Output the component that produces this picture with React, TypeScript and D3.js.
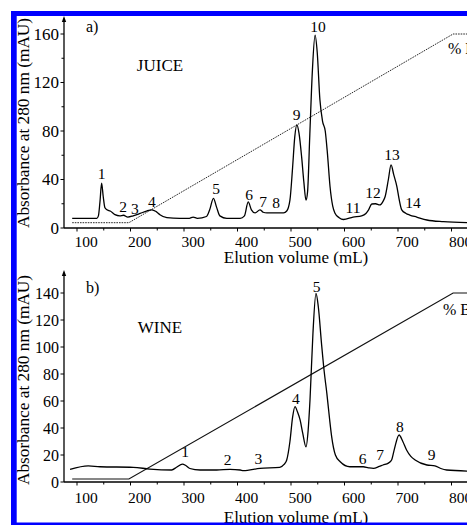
import React from "react";
import * as d3 from "d3";

// ---------- DATA ----------
const juiceVolume = [91, 137, 140, 143, 146, 149, 152, 156, 162, 171, 180, 187, 195, 205, 218, 230, 240, 248, 255, 268, 292, 310, 317, 325, 342, 348, 355, 361, 367, 380, 405, 413, 420, 426, 433, 442, 448, 455, 480, 486, 492, 498, 503, 507, 511, 515, 520, 524, 528, 531, 535, 540, 545, 549, 554, 559, 564, 568, 573, 578, 582, 590, 598, 616, 632, 640, 645, 651, 658, 666, 672, 676, 682, 687, 692, 698, 702, 707, 715, 722, 735, 754, 785, 830];
const juiceAbs = [8, 8, 10, 22, 37, 26, 17, 15, 14, 11, 10, 10.5, 9, 10, 12, 14, 15, 13.5, 11, 8.5, 8, 8, 9, 8, 9.5, 15, 24.5, 17, 10, 8, 8, 10, 21.5, 15, 12.4, 15, 13, 12.4, 12.4, 12.5, 14, 23, 50, 75, 85, 78, 58, 38, 23, 30, 75, 130, 159, 145, 106, 88, 80, 62, 34, 18, 12.4, 8.5, 7, 9, 10, 12, 15, 19.8, 20, 19, 22, 26, 40, 52, 44, 34, 24, 15, 12, 10.7, 9, 6.6, 5.2, 4.4];

const wineVolume = [87, 121, 143, 205, 236, 277, 286, 297, 304, 311, 330, 361, 386, 405, 411, 442, 479, 487, 492, 498, 503, 507.5, 512, 517, 522, 528, 532, 535.5, 541, 546.7, 551, 557, 562, 567, 572, 576, 583, 592, 610, 635, 645, 654, 665, 672, 682, 688, 693, 702, 709, 716, 724, 732, 754, 769, 780, 791, 830];
const wineAbs = [9.4, 12, 11.3, 10.9, 9.6, 8.9, 10.9, 13.3, 12, 10, 8.9, 8.9, 9.4, 8.9, 8.4, 10.1, 10.9, 13, 16.3, 30, 48, 55.8, 52, 46, 36, 26, 38, 60.7, 110, 139.7, 130, 102.7, 82, 65.7, 47, 33.6, 20, 15, 11.3, 11.3, 10.5, 10.1, 11.5, 12.6, 14, 16.3, 24, 34.8, 30, 23.7, 19, 16.3, 12.6, 12, 10, 8.9, 8.1];

const gradientVolume = [91, 197, 803, 840];
const gradientPercent = [0, 0, 100, 100];

const juicePeakLabels = ["1", "2", "3", "4", "5", "6", "7", "8", "9", "10", "11", "12", "13", "14"];
const juicePeakVolume = [146, 186, 208.4, 240, 360, 421.5, 447.7, 472, 510.7, 550.5, 615.9, 653.3, 688.8, 728];
const juicePeakAbs = [44.5, 17.3, 15.7, 21.4, 32.2, 27.2, 21.4, 20.6, 93.2, 165.8, 16.5, 28.9, 60.2, 20.6];

const winePeakLabels = ["1", "2", "3", "4", "5", "6", "7", "8", "9"];
const winePeakVolume = [301.9, 381.7, 438.9, 509.3, 548, 634, 666.4, 703.7, 763];
const winePeakAbs = [22.4, 16.3, 17.6, 62, 144.7, 17.6, 20, 41, 20];

const xTickValues = [100, 200, 300, 400, 500, 600, 700, 800];
const xMinorTicks = [150, 250, 350, 450, 550, 650, 750, 850];
const juiceYTicks = [0, 40, 80, 120, 160];
const juiceYMinor = [20, 60, 100, 140];
const wineYTicks = [0, 20, 40, 60, 80, 100, 120, 140];

const yTitle = "Absorbance at 280 nm (mAU)";
const xTitle = "Elution volume (mL)";

// ---------- LAYOUT ----------
const W = 467;
const H = 525;
const FONT = "'Liberation Serif', 'Times New Roman', serif";
const AXIS_X = 64;

const x = d3.scaleLinear().domain([500, 800]).range([291, 451.5]);

type PanelProps = {
  volume: number[];
  abs: number[];
  yDomainMax: number;
  yBottom: number;
  yAtMax: number;
  axisTop: number;
  yTicks: number[];
  yMinor: number[];
  yTickFont: number;
  gradBottom: number;
  gradTop: number;
  gradDash?: string;
  gradWidth: number;
  peakLabels: string[];
  peakVolume: number[];
  peakAbs: number[];
  letter: string;
  letterY: number;
  sample: string;
  sampleY: number;
  pctX: number;
  pctY: number;
  tickLabelY: number;
  titleY: number;
  yTitleCenter: number;
};

function Panel(p: PanelProps) {
  const y = d3.scaleLinear().domain([0, p.yDomainMax]).range([p.yBottom, p.yAtMax]);
  const yPct = d3.scaleLinear().domain([0, 100]).range([p.gradBottom, p.gradTop]);
  const line = d3
    .line<number>()
    .x((_, i) => x(p.volume[i]))
    .y((d) => y(d))
    .curve(d3.curveMonotoneX);
  const gradLine = d3
    .line<number>()
    .x((_, i) => x(gradientVolume[i]))
    .y((d) => yPct(d));
  const yb = p.yBottom;
  return (
    <g>
      {/* gradient */}
      <path d={gradLine(gradientPercent) || ""} fill="none" stroke="#111" strokeWidth={p.gradWidth} strokeDasharray={p.gradDash} />
      {/* chromatogram */}
      <path d={line(p.abs) || ""} fill="none" stroke="#000" strokeWidth={1.3} strokeLinejoin="round" />
      {/* axes */}
      <line x1={AXIS_X} x2={W + 5} y1={yb} y2={yb} stroke="#000" strokeWidth={1.3} />
      <line x1={AXIS_X} x2={AXIS_X} y1={yb} y2={p.axisTop + 3} stroke="#000" strokeWidth={1.3} />
      <path d={`M${AXIS_X - 2.2},${p.axisTop + 6} L${AXIS_X},${p.axisTop} L${AXIS_X + 2.2},${p.axisTop + 6} Z`} fill="#000" />
      {xTickValues.map((t) => (
        <g key={"xt" + t}>
          <line x1={x(t)} x2={x(t)} y1={yb} y2={yb + 3.5} stroke="#000" strokeWidth={1} />
          <text x={x(t) + 9} y={p.tickLabelY} textAnchor="middle" fontSize={15.5} fontFamily={FONT}>
            {t}
          </text>
        </g>
      ))}
      {xMinorTicks.map((t) => (
        <line key={"xm" + t} x1={x(t)} x2={x(t)} y1={yb} y2={yb + 2.5} stroke="#000" strokeWidth={1} />
      ))}
      {p.yTicks.map((t) => (
        <g key={"yt" + t}>
          <line x1={AXIS_X - 3.5} x2={AXIS_X} y1={y(t)} y2={y(t)} stroke="#000" strokeWidth={1} />
          <text x={AXIS_X - 5} y={y(t)} dy="0.35em" textAnchor="end" fontSize={p.yTickFont} fontFamily={FONT}>
            {t}
          </text>
        </g>
      ))}
      {p.yMinor.map((t) => (
        <line key={"ym" + t} x1={AXIS_X - 2.5} x2={AXIS_X} y1={y(t)} y2={y(t)} stroke="#000" strokeWidth={1} />
      ))}
      {/* peak labels */}
      {p.peakLabels.map((lab, i) => (
        <text key={"pk" + i} x={x(p.peakVolume[i])} y={y(p.peakAbs[i])} dy="0.35em" textAnchor="middle" fontSize={15.5} fontFamily={FONT}>
          {lab}
        </text>
      ))}
      {/* annotations */}
      <text x={86} y={p.letterY} fontSize={16} fontFamily={FONT}>{p.letter}</text>
      <text x={160} y={p.sampleY} textAnchor="middle" fontSize={17} fontFamily={FONT}>{p.sample}</text>
      <text x={p.pctX} y={p.pctY} fontSize={16} fontFamily={FONT}>% B</text>
      <text x={296} y={p.titleY} textAnchor="middle" fontSize={17} fontFamily={FONT}>{xTitle}</text>
      <text
        transform={`translate(29,${p.yTitleCenter}) rotate(-90)`}
        textAnchor="middle"
        fontSize={17.3}
        fontFamily={FONT}
      >
        {yTitle}
      </text>
    </g>
  );
}

export default function App() {
  return (
    <svg
      width={W}
      height={H}
      viewBox={`0 0 ${W} ${H}`}
      style={{ position: "absolute", left: 0, top: 0, background: "#fff", display: "block" }}
    >
      <rect x={0} y={0} width={W} height={H} fill="#fff" />
      <Panel
        volume={juiceVolume}
        abs={juiceAbs}
        yDomainMax={160}
        yBottom={228}
        yAtMax={34}
        axisTop={16}
        yTicks={juiceYTicks}
        yMinor={juiceYMinor}
        yTickFont={17}
        gradBottom={222.7}
        gradTop={34}
        gradDash="1.6 1"
        gradWidth={0.9}
        peakLabels={juicePeakLabels}
        peakVolume={juicePeakVolume}
        peakAbs={juicePeakAbs}
        letter="a)"
        letterY={32}
        sample="JUICE"
        sampleY={71}
        pctX={448}
        pctY={54}
        tickLabelY={246.5}
        titleY={262.5}
        yTitleCenter={123}
      />
      <Panel
        volume={wineVolume}
        abs={wineAbs}
        yDomainMax={140}
        yBottom={482}
        yAtMax={293}
        axisTop={270}
        yTicks={wineYTicks}
        yMinor={[]}
        yTickFont={16}
        gradBottom={479}
        gradTop={293}
        gradWidth={1.2}
        peakLabels={winePeakLabels}
        peakVolume={winePeakVolume}
        peakAbs={winePeakAbs}
        letter="b)"
        letterY={293}
        sample="WINE"
        sampleY={333}
        pctX={443}
        pctY={315}
        tickLabelY={502.5}
        titleY={523}
        yTitleCenter={380}
      />
      {/* blue frame */}
      <rect x={11} y={11} width={W - 11} height={5} fill="#0000ff" />
      <rect x={11} y={11} width={5.7} height={H - 11} fill="#0000ff" />
      <rect x={11} y={522.5} width={W - 11} height={3} fill="#0000ff" />
    </svg>
  );
}
